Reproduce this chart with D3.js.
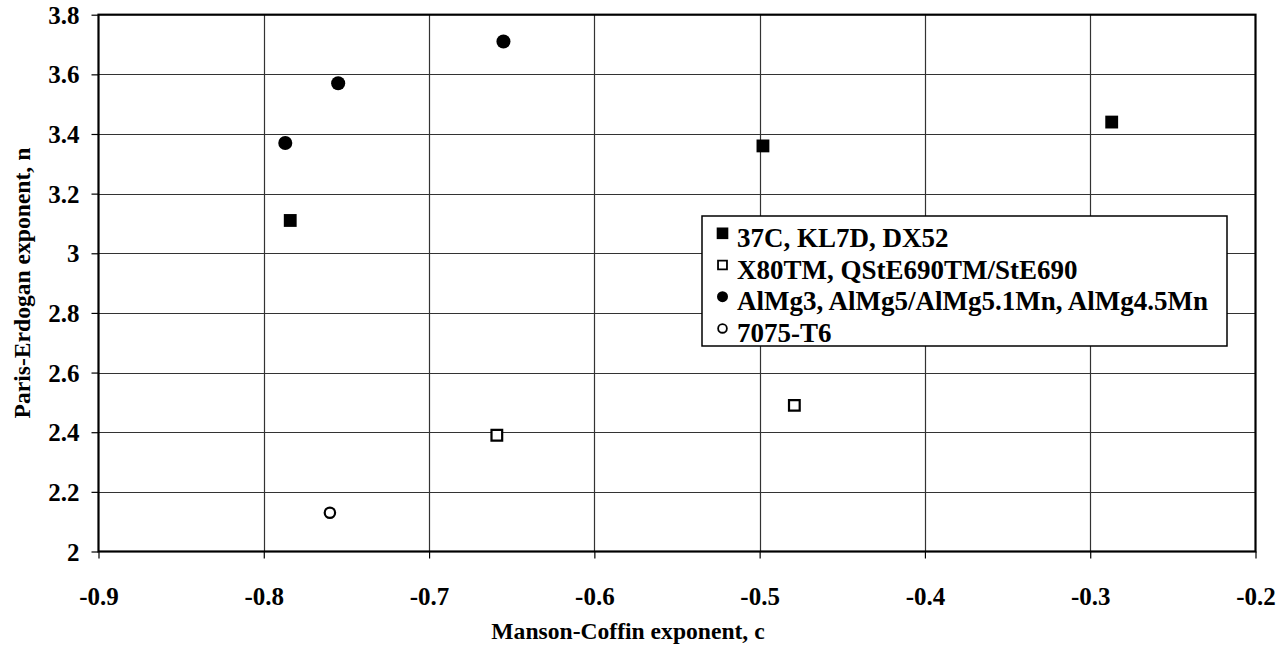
<!DOCTYPE html>
<html>
<head>
<meta charset="utf-8">
<script src="https://cdn.jsdelivr.net/npm/d3@7"></script>
<style>
  html, body { margin: 0; padding: 0; background: #fff; }
  svg text { font-family: "Liberation Serif", "Times New Roman", serif; font-weight: bold; fill: #000; }
</style>
</head>
<body>
<svg id="chart" width="1288" height="646"></svg>
<script>
// ---- data ----
const seriesNames = ["37C, KL7D, DX52", "X80TM, QStE690TM/StE690", "AlMg3, AlMg5/AlMg5.1Mn, AlMg4.5Mn", "7075-T6"];
const seriesShapes = ["square", "square", "circle", "circle"];
const seriesFilled = [true, false, true, false];
const s1_c = [-0.784, -0.498, -0.287];
const s1_n = [3.11, 3.36, 3.44];
const s2_c = [-0.659, -0.479];
const s2_n = [2.39, 2.49];
const s3_c = [-0.787, -0.755, -0.655];
const s3_n = [3.37, 3.57, 3.71];
const s4_c = [-0.760];
const s4_n = [2.13];
const xTicks = [-0.9, -0.8, -0.7, -0.6, -0.5, -0.4, -0.3, -0.2];
const yTicks = [2, 2.2, 2.4, 2.6, 2.8, 3, 3.2, 3.4, 3.6, 3.8];
const xTitle = "Manson-Coffin exponent, c";
const yTitle = "Paris-Erdogan exponent, n";

const seriesX = [s1_c, s2_c, s3_c, s4_c];
const seriesY = [s1_n, s2_n, s3_n, s4_n];

// ---- layout ----
const L = 98.5, R = 1255.5, T = 14.7, B = 551.5;
const FONT = '"Liberation Serif", "Times New Roman", serif';
const svg = d3.select("#chart");
const x = d3.scaleLinear().domain([-0.9, -0.2]).range([L, R]);
const y = d3.scaleLinear().domain([2, 3.8]).range([B, T]);

// gridlines
const grid = svg.append("g");
grid.selectAll("line.v").data(xTicks.slice(1, -1)).join("line")
  .attr("x1", d => Math.round(x(d)) + 0.5).attr("x2", d => Math.round(x(d)) + 0.5)
  .attr("y1", T).attr("y2", B)
  .attr("stroke", "#333").attr("stroke-width", 1.2);
grid.selectAll("line.h").data(yTicks.slice(1, -1)).join("line")
  .attr("y1", d => Math.round(y(d)) + 0.5).attr("y2", d => Math.round(y(d)) + 0.5)
  .attr("x1", L).attr("x2", R)
  .attr("stroke", "#333").attr("stroke-width", 1.2);

// axes
const fmt = d => (Math.abs(d - Math.round(d)) < 1e-9 ? String(Math.round(d)) : d.toFixed(1));
const xAxis = svg.append("g").attr("transform", `translate(0,${B})`)
  .call(d3.axisBottom(x).tickValues(xTicks).tickFormat(fmt).tickSize(7));
const yAxis = svg.append("g").attr("transform", `translate(${L},0)`)
  .call(d3.axisLeft(y).tickValues(yTicks).tickFormat(fmt).tickSize(7).tickPadding(12));
[xAxis, yAxis].forEach(a => {
  a.attr("font-family", FONT).attr("font-size", 25);
  a.select(".domain").remove();
  a.selectAll(".tick line").attr("stroke", "#000").attr("stroke-width", 1.2);
  a.selectAll(".tick text")
    .style("font-family", FONT).style("font-weight", "bold").style("font-size", "25px")
    .attr("fill", "#000");
});
xAxis.selectAll(".tick text").attr("y", 45).attr("dy", "0.35em");
yAxis.selectAll(".tick text").attr("dy", "0.34em");

// frame
svg.append("rect").attr("x", L).attr("y", T).attr("width", R - L).attr("height", B - T)
  .attr("fill", "none").attr("stroke", "#000").attr("stroke-width", 2.2);

// data points
const sym = (shape, filled) => {
  const size = shape === "square" ? (filled ? 165 : 114) : (filled ? 155 : 85);
  return d3.symbol().type(shape === "square" ? d3.symbolSquare : d3.symbolCircle).size(size)();
};
seriesNames.forEach((name, i) => {
  const pts = seriesX[i].map((c, j) => ({ c, n: seriesY[i][j] }));
  svg.append("g").selectAll("path").data(pts).join("path")
    .attr("transform", d => `translate(${x(d.c)},${y(d.n)})`)
    .attr("d", sym(seriesShapes[i], seriesFilled[i]))
    .attr("fill", seriesFilled[i] ? "#000" : "#fff")
    .attr("stroke", "#000")
    .attr("stroke-width", seriesFilled[i] ? 0 : 2.2);
});

// legend
const lg = svg.append("g");
lg.append("rect").attr("x", 702).attr("y", 216).attr("width", 525).attr("height", 130)
  .attr("fill", "#fff").attr("stroke", "#000").attr("stroke-width", 1.5);
seriesNames.forEach((name, i) => {
  const my = 233.3 + i * 31.7;
  const small = seriesShapes[i] === "square"
    ? d3.symbol().type(d3.symbolSquare).size(seriesFilled[i] ? 135 : 80)()
    : d3.symbol().type(d3.symbolCircle).size(seriesFilled[i] ? 95 : 60)();
  lg.append("path").attr("transform", `translate(722.5,${my})`).attr("d", small)
    .attr("fill", seriesFilled[i] ? "#000" : "#fff").attr("stroke", "#000")
    .attr("stroke-width", seriesFilled[i] ? 0 : 1.8);
  lg.append("text").attr("x", 737).attr("y", 247.3 + i * 31.5)
    .style("font-size", "27px").text(name);
});

// axis titles
svg.append("text").attr("x", 628).attr("y", 639).attr("text-anchor", "middle")
  .style("font-size", "23.6px").text(xTitle);
svg.append("text").attr("transform", `translate(30,${(T + B) / 2}) rotate(-90)`)
  .attr("text-anchor", "middle")
  .style("font-size", "23.6px").text(yTitle);
</script>
</body>
</html>
